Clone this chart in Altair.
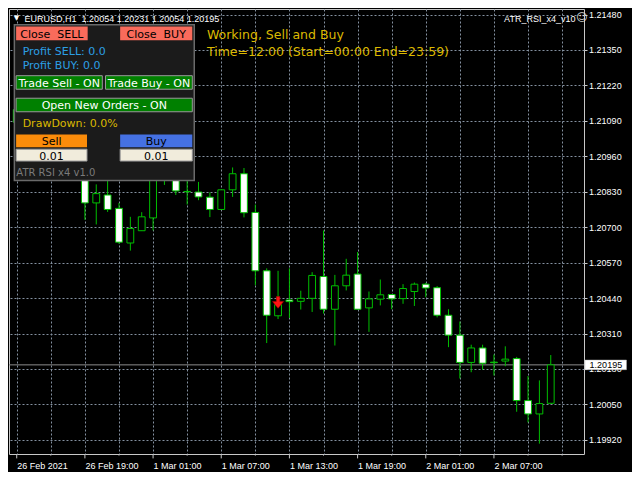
import altair as alt
import pandas as pd

# ---------------- data ----------------
symbol = "EURUSD,H1"
ea_name = "ATR_RSI_x4_v10"
# H1 bars: bar -6 = 26 Feb 13:00 (left edge), bar 0 = 26 Feb 19:00, bar 41 = 2 Mar 12:00
bar_ids = [-6] + list(range(0, 42))
opens = [1.21131,
         1.20883, 1.20789, 1.20818, 1.20769, 1.20642, 1.20687, 1.20734, 1.20901, 1.20894, 1.20831,
         1.20829, 1.20810, 1.20765, 1.20837, 1.20896, 1.20754, 1.20540, 1.20375, 1.20433, 1.20428,
         1.20439, 1.20519, 1.20399, 1.20485, 1.20528, 1.20404, 1.20436, 1.20453, 1.20438, 1.20464,
         1.20491, 1.20478, 1.20377, 1.20304, 1.20204, 1.20257, 1.20205, 1.20209, 1.20218, 1.20064,
         1.20015, 1.20054]
highs = [1.21256,
         1.20894, 1.20857, 1.20880, 1.20789, 1.20738, 1.20755, 1.20919, 1.20919, 1.20901, 1.20883,
         1.20866, 1.20828, 1.20837, 1.20919, 1.20917, 1.20783, 1.20549, 1.20540, 1.20549, 1.20467,
         1.20535, 1.20688, 1.20525, 1.20584, 1.20609, 1.20464, 1.20508, 1.20453, 1.20491, 1.20497,
         1.20496, 1.20484, 1.20399, 1.20354, 1.20269, 1.20269, 1.20233, 1.20263, 1.20224, 1.20154,
         1.20138, 1.20231]
lows = [1.20912,
        1.20727, 1.20710, 1.20756, 1.20639, 1.20614, 1.20687, 1.20688, 1.20855, 1.20818, 1.20783,
        1.20799, 1.20737, 1.20765, 1.20811, 1.20736, 1.20487, 1.20275, 1.20363, 1.20367, 1.20398,
        1.20389, 1.20383, 1.20266, 1.20468, 1.20399, 1.20316, 1.20413, 1.20399, 1.20419, 1.20411,
        1.20443, 1.20369, 1.20260, 1.20145, 1.20168, 1.20177, 1.20156, 1.20190, 1.20023, 1.19984,
        1.19906, 1.20054]
closes = [1.21085,
          1.20789, 1.20823, 1.20765, 1.20645, 1.20695, 1.20738, 1.20901, 1.20894, 1.20833, 1.20830,
          1.20811, 1.20765, 1.20837, 1.20896, 1.20753, 1.20540, 1.20377, 1.20416, 1.20427, 1.20439,
          1.20523, 1.20399, 1.20485, 1.20524, 1.20399, 1.20437, 1.20452, 1.20437, 1.20475, 1.20491,
          1.20477, 1.20377, 1.20304, 1.20204, 1.20257, 1.20201, 1.20203, 1.20216, 1.20064, 1.20015,
          1.20053, 1.20195]
price_ticks = [1.19920, 1.20050, 1.20180, 1.20310, 1.20440, 1.20570, 1.20700,
               1.20830, 1.20960, 1.21090, 1.21220, 1.21350, 1.21480]
grid_bars = list(range(-6, 43, 3))
time_label_bars = [-6, 0, 6, 12, 18, 24, 30, 36]
time_labels = ["26 Feb 2021", "26 Feb 19:00", "1 Mar 01:00", "1 Mar 07:00",
               "1 Mar 13:00", "1 Mar 19:00", "2 Mar 01:00", "2 Mar 07:00"]
signal_bars = [17]
signal_prices = [1.20424]

# ---------------- geometry ----------------
SX, SY = 624 / 640, 464 / 480
W, H = 575, 445


def px(x):
    return (x - 1) * SX


def py(y):
    return (y - 1) * SY


BAR0_X, BAR_DX = 75.0, 11.86          # reference pixel of bar 0 and bar spacing
P_REF, P_REF_Y, PX_PER_PRICE = 1.21480, 6.7, 28205.1
x_dom = [(1 - BAR0_X) / BAR_DX, (1 + W / SX - BAR0_X) / BAR_DX]
y_dom = [P_REF - (1 + H / SY - P_REF_Y) / PX_PER_PRICE, P_REF + (P_REF_Y - 1) / PX_PER_PRICE]

GREEN = "#00bf00"
GRID = "#8491a0"
FRAME = "#c8c8c8"
GOLD = "#dcb900"
BLUE = "#2c9fe4"

xs = alt.Scale(domain=x_dom, nice=False, zero=False)
ys = alt.Scale(domain=y_dom, nice=False, zero=False)

expr = "".join(f"datum.value == {b} ? '{t}' : " for b, t in zip(time_label_bars, time_labels)) + "''"

xax = alt.Axis(values=grid_bars, labelExpr=expr, ticks=False, labelAlign="left",
               labelBaseline="alphabetic", labelPadding=14.2, labelColor="#ffffff",
               labelFont="Liberation Sans", labelFontSize=9, labelOverlap=False,
               labelBound=False, labelFlush=False, grid=True, gridColor=GRID,
               gridDash=[2, 2], gridWidth=1, domain=False, title=None, zindex=0)
yax = alt.Axis(orient="right", values=price_ticks, format=".5f", tickSize=3,
               tickColor=FRAME, labelPadding=1.6, labelColor="#ffffff",
               labelFont="Liberation Sans", labelFontSize=9, labelOverlap=False,
               labelBound=False, labelFlush=False, grid=True, gridColor=GRID,
               gridDash=[2, 2], gridWidth=1, domain=False, title=None, zindex=0)

df = pd.DataFrame({"bar": bar_ids, "open": opens, "high": highs,
                   "low": lows, "close": closes})
df["top"] = df[["open", "close"]].max(axis=1)
df["bottom"] = df[["open", "close"]].min(axis=1)
df["dir"] = ["up" if c > o else "down" for o, c in zip(opens, closes)]

cur_df = pd.DataFrame({"price": [closes[-1]], "label": [f"{closes[-1]:.5f}"]})
sig_df = pd.DataFrame({"bar": signal_bars, "price": signal_prices})
tick_df = pd.DataFrame({"pos": grid_bars, "major": [b in time_label_bars for b in grid_bars]})

X = alt.X("bar:Q", scale=xs, axis=xax)

layers = []
layers.append(alt.Chart(cur_df).mark_rule(color="#8c8c8c", strokeWidth=1).encode(
    y=alt.Y("price:Q", scale=ys, axis=yax)))
layers.append(alt.Chart(df).mark_rule(color=GREEN, strokeWidth=1, clip=True).encode(
    x=X, y=alt.Y("low:Q", scale=ys, axis=yax), y2="high:Q"))
layers.append(alt.Chart(df).mark_bar(width=6.8, stroke=GREEN, strokeWidth=1, clip=True).encode(
    x=X, y=alt.Y("top:Q", scale=ys, axis=yax), y2="bottom:Q",
    fill=alt.Fill("dir:N", scale=alt.Scale(domain=["up", "down"], range=["#000000", "#ffffff"]),
                  legend=None)))
ARROW = "M-0.3,-1L0.3,-1L0.3,-0.15L0.95,-0.15L0,1L-0.95,-0.15L-0.3,-0.15Z"
layers.append(alt.Chart(sig_df).mark_point(shape=ARROW, size=136, filled=True, fill="#ff1414",
                                           stroke="#b40000", strokeWidth=0.5, opacity=1).encode(
    x=X, y=alt.Y("price:Q", scale=ys, axis=yax)))
# x-axis tick marks
layers.append(alt.Chart(tick_df[tick_df["major"]]).mark_rule(color=FRAME).encode(
    x=alt.X("pos:Q", scale=xs, axis=xax), y=alt.value(H), y2=alt.value(H + 4.4)))
layers.append(alt.Chart(tick_df[~tick_df["major"]]).mark_rule(color=FRAME).encode(
    x=alt.X("pos:Q", scale=xs, axis=xax), y=alt.value(H), y2=alt.value(H + 1.6)))
# current price box
layers.append(alt.Chart(cur_df).mark_rect(fill="#ffffff", stroke="#bbbbbb", strokeWidth=0.5,
                                          yOffset=-4.8, y2Offset=4.8).encode(
    x=alt.value(px(591.7)), x2=alt.value(px(634.3)),
    y=alt.Y("price:Q", scale=ys, axis=yax), y2=alt.Y2("price:Q")))
layers.append(alt.Chart(cur_df).mark_text(align="left", baseline="middle", color="#000000",
                                          font="Liberation Sans", fontSize=9).encode(
    x=alt.value(px(596.5)), y=alt.Y("price:Q", scale=ys, axis=yax), text="label:N"))

one = pd.DataFrame({"a": [0]})


def rect(x1, y1, x2, y2, fill, stroke=None, sw=1.0):
    kw = {"fill": fill}
    if stroke:
        kw.update(stroke=stroke, strokeWidth=sw)
    return alt.Chart(one).mark_rect(**kw).encode(
        x=alt.value(px(x1)), x2=alt.value(px(x2)), y=alt.value(py(y1)), y2=alt.value(py(y2)))


def text(t, x, y, color, size=11, align="left", font="DejaVu Sans", baseline="alphabetic"):
    return alt.Chart(one).mark_text(text=t, align=align, baseline=baseline, color=color,
                                    fontSize=size, font=font).encode(
        x=alt.value(px(x)), y=alt.value(py(y)))


# control panel
layers += [
    rect(6.5, 17.3, 191, 178.5, "#1b1b1b", "#6a6a6a", 1.5),
    rect(8.3, 19, 81.7, 33.3, "#f96b5b"),
    rect(115, 19, 189, 33.3, "#f96b5b"),
    rect(8.3, 70, 96.7, 84, "#008000", "#9a9a9a"),
    rect(100, 70, 189, 84, "#008000", "#9a9a9a"),
    rect(8.3, 93.3, 189, 107.3, "#008000", "#9a9a9a"),
    rect(8.3, 130.7, 81, 144, "#fb8c0a"),
    rect(115, 130.7, 189, 144, "#4571e3"),
    rect(8.3, 146, 81, 158.3, "#f1ecdc", "#9a9a9a"),
    rect(115, 146, 189, 158.3, "#f1ecdc", "#9a9a9a"),
    text("Close\u00a0 SELL", 45, 30.7, "#000000", align="center"),
    text("Close\u00a0 BUY", 152, 30.7, "#000000", align="center"),
    text("Profit SELL: 0.0", 15, 48.3, BLUE),
    text("Profit BUY: 0.0", 15, 63.3, BLUE),
    text("Trade Sell - ON", 52.5, 81.7, "#ffffff", align="center"),
    text("Trade Buy - ON", 144.5, 81.7, "#ffffff", align="center"),
    text("Open New Orders - ON", 98.7, 104.7, "#ffffff", align="center"),
    text("DrawDown: 0.0%", 15, 122.7, GOLD),
    text("Sell", 44.7, 141.3, "#000000", align="center"),
    text("Buy", 152, 141.3, "#000000", align="center"),
    text("0.01", 44.7, 156.7, "#000000", align="center"),
    text("0.01", 152, 156.7, "#000000", align="center"),
    text("ATR RSI x4 v1.0", 8.5, 173.3, "#7a7a7a", size=10),
]
# header texts
ohlc = f"{opens[-1]:.5f} {highs[-1]:.5f} {lows[-1]:.5f} {closes[-1]:.5f}"
layers += [
    text("\u25bc", 8.5, 10.5, "#ffffff", size=7, align="center", baseline="middle"),
    text(f"{symbol}\u00a0 {ohlc}", 17, 14.5, "#ffffff", size=9, font="Liberation Sans"),
    text("Working, Sell and Buy", 204, 32.3, GOLD, size=12.5),
    text("Time=12:00 (Start=00:00 End=23:59)", 204, 50, GOLD, size=12.5),
    text(ea_name, 582, 14.5, "#ffffff", size=9, align="right", font="Liberation Sans"),
    text("\u263a", 588.5, 10.5, "#dddddd", size=11, align="center", baseline="middle"),
]

chart = alt.layer(*layers).properties(
    width=W, height=H,
    padding={"left": 1, "top": 1, "right": 48, "bottom": 18},
    autosize=alt.AutoSizeParams(type="none"),
    background="#000000",
).configure_view(stroke=FRAME, strokeWidth=1)

chart.save("out.html", embed_options={"renderer": "svg", "actions": False})
